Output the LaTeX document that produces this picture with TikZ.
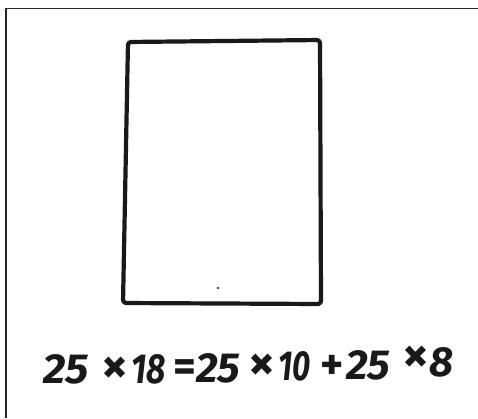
\documentclass[tikz,border=0pt]{standalone}
\usepackage{fontspec}
\setmainfont{Fira Sans}
\begin{document}
\begin{tikzpicture}[x=1pt,y=-1pt,
  frame/.style={line width=1.5pt,black!85},
  sketch/.style={line width=4.2pt,black!90,line join=round,rounded corners=3pt},
  handtext/.style={font=\fontsize{42}{42}\selectfont\bfseries\itshape,inner sep=0pt,anchor=base west,black!90},
  opsign/.style={font=\fontsize{44}{44}\selectfont\bfseries,inner sep=0pt,anchor=center,black!90},
  timesign/.style={font=\fontsize{52}{52}\selectfont\bfseries,inner sep=0pt,anchor=center,black!90}]
\useasboundingbox (0,0) rectangle (478,418);
\draw[frame] (478,8.5) -- (6,8.5) -- (6,418);
\draw[sketch] (128,42) -- (320,40) -- (321,304) -- (123,303) -- cycle;
\fill[black] (218,288) circle (1.2pt);
\node[handtext] (a1) at (43,383) {\scalebox{1.05}[1]{25}};
\node[timesign] (t1) at (115,370) {×};
\node[handtext] (a2) at (131,383) {\scalebox{0.8}[1]{18}};
\node[opsign] (eq) at (185,371) {=};
\node[handtext] (a3) at (196,382) {\scalebox{1.02}[1]{25}};
\node[timesign] (t2) at (262,367) {×};
\node[handtext] (a4) at (278,380) {\scalebox{0.75}[1]{10}};
\node[opsign] (pl) at (332,367) {+};
\node[handtext] (a5) at (346,379) {\scalebox{1.02}[1]{25}};
\node[timesign] (t3) at (416,359) {×};
\node[handtext] (a6) at (429,376) {8};
\end{tikzpicture}
\end{document}
